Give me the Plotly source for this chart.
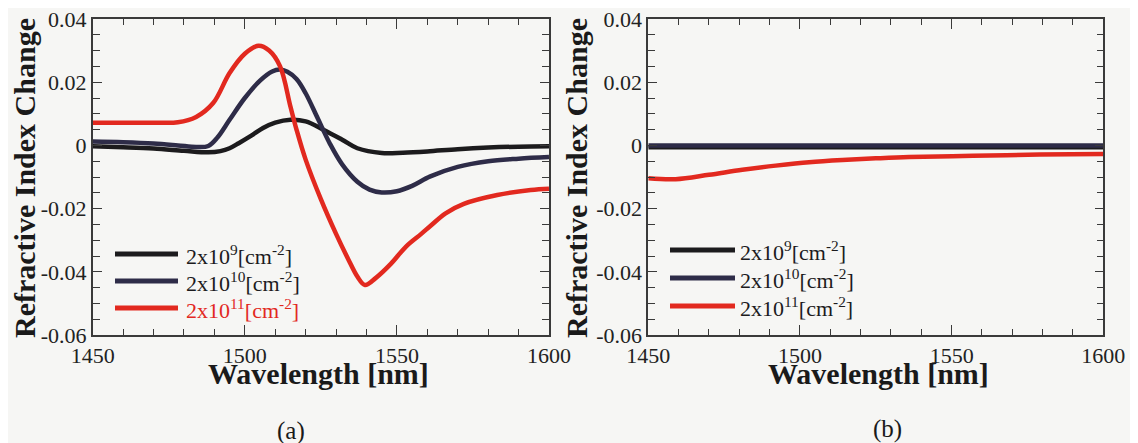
import plotly.graph_objects as go

# ---------------- data ----------------
# (a) left panel
wl_a_9 = [1450, 1460, 1470, 1480, 1488, 1492, 1495, 1498, 1502, 1506, 1510, 1515, 1520,
          1526, 1532, 1537, 1545, 1552, 1560, 1570, 1580, 1590, 1600]
dn_a_9 = [-0.0003, -0.0006, -0.0010, -0.0017, -0.0022, -0.0018, -0.0009, 0.0007, 0.0030,
          0.0055, 0.0072, 0.0081, 0.0076, 0.0049, 0.0018, -0.0009, -0.0024, -0.0023,
          -0.0019, -0.0012, -0.0007, -0.0004, -0.0003]

wl_a_10 = [1450, 1460, 1470, 1478, 1484, 1488, 1491, 1495, 1500, 1505, 1509, 1511.5, 1514,
           1517, 1520, 1524, 1528, 1532, 1537, 1541, 1545, 1550, 1555, 1561, 1570, 1580,
           1590, 1600]
dn_a_10 = [0.0012, 0.0010, 0.0006, 0.0000, -0.0005, -0.0002, 0.0025, 0.0081, 0.0150, 0.0205,
           0.0234, 0.0240, 0.0233, 0.0210, 0.0165, 0.0085, 0.0005, -0.0060, -0.0115, -0.0140,
           -0.0149, -0.0145, -0.0128, -0.0098, -0.0068, -0.0050, -0.0042, -0.0037]

wl_a_11 = [1450, 1460, 1470, 1478, 1484, 1489.6, 1495, 1500, 1504.5, 1508, 1511.6, 1515,
           1517, 1520, 1525, 1530, 1534, 1537, 1539.5, 1543, 1548, 1553, 1558, 1561, 1566,
           1572, 1583, 1594, 1600]
dn_a_11 = [0.0072, 0.0072, 0.0072, 0.0073, 0.0090, 0.0134, 0.0229, 0.0290, 0.0315, 0.0300,
           0.0250, 0.0123, 0.0050, -0.0045, -0.0170, -0.0280, -0.0360, -0.0415, -0.0442,
           -0.0420, -0.0375, -0.0320, -0.0280, -0.0255, -0.0215, -0.0185, -0.0157, -0.0141,
           -0.0137]

# (b) right panel
wl_b_9 = [1450, 1500, 1550, 1600]
dn_b_9 = [-0.0006, -0.0006, -0.0006, -0.0006]

wl_b_10 = [1450, 1500, 1550, 1600]
dn_b_10 = [0.0000, 0.0000, 0.0000, 0.0000]

wl_b_11 = [1450, 1459, 1470, 1481, 1492, 1503, 1514, 1525, 1536, 1557, 1579, 1600]
dn_b_11 = [-0.0104, -0.0107, -0.0093, -0.0077, -0.0064, -0.0053, -0.0046, -0.0041,
           -0.0037, -0.0033, -0.0029, -0.0027]

series_names = ["2x10<sup>9</sup>[cm<sup>-2</sup>]",
                "2x10<sup>10</sup>[cm<sup>-2</sup>]",
                "2x10<sup>11</sup>[cm<sup>-2</sup>]"]

x_tickvals = [1450, 1500, 1550, 1600]
x_ticktext = ["1450", "1500", "1550", "1600"]
y_tickvals = [0.04, 0.02, 0.0, -0.02, -0.04, -0.06]
y_ticktext = ["0.04", "0.02", "0", "-0.02", "-0.04", "-0.06"]

# ---------------- style ----------------
C_BLACK = "#1c1b1d"
C_BLUE = "#2e2c48"
C_RED = "#e2291f"
COLORS = [C_BLACK, C_BLUE, C_RED]
FONT = "Liberation Serif, Times New Roman, Times, DejaVu Serif, serif"
BG = "#f6f6f4"
AX = "#3a3a3a"

OFF = 8                      # page body margin of the viewer
W, H = 1138 - OFF, 443 - OFF
ML, MR, MT, MB = 0, 0, 19 - OFF, 108

fig = go.Figure()

def add(x, y, name, color, xa, ya):
    fig.add_trace(go.Scatter(
        x=x, y=y, name=name, mode="lines", showlegend=False,
        line=dict(color=color, width=4.5, shape="spline", smoothing=1.0),
        xaxis=xa, yaxis=ya, hoverinfo="skip"))

add(wl_a_9, dn_a_9, series_names[0], C_BLACK, "x", "y")
add(wl_a_10, dn_a_10, series_names[1], C_BLUE, "x", "y")
add(wl_a_11, dn_a_11, series_names[2], C_RED, "x", "y")

add(wl_b_9, dn_b_9, series_names[0], C_BLACK, "x2", "y2")
add(wl_b_10, dn_b_10, series_names[1], C_BLUE, "x2", "y2")
add(wl_b_11, dn_b_11, series_names[2], C_RED, "x2", "y2")

xcommon = dict(range=[1450, 1600], tickvals=x_tickvals, ticktext=x_ticktext,
               ticks="inside", ticklen=10, tickwidth=1.3, tickcolor=AX,
               minor=dict(dtick=10, ticks="inside", ticklen=6, tickwidth=1.3, tickcolor=AX),
               showline=True, linecolor=AX, linewidth=1.6, mirror="ticks",
               showgrid=False, zeroline=False, automargin=False,
               ticklabeloverflow="allow",
               tickfont=dict(family=FONT, size=22, color="#222"))
ycommon = dict(range=[-0.06, 0.04], tickvals=y_tickvals, ticktext=y_ticktext,
               ticks="inside", ticklen=9, tickwidth=1.3, tickcolor=AX,
               minor=dict(dtick=0.005, ticks="inside", ticklen=7, tickwidth=1.3, tickcolor=AX),
               showline=True, linecolor=AX, linewidth=1.6, mirror="ticks",
               showgrid=False, zeroline=False, automargin=False,
               ticklabeloverflow="allow",
               tickfont=dict(family=FONT, size=22, color="#222"),
               domain=[0, 1])

def px2x(p):
    """page pixel x -> paper fraction"""
    return (p - OFF - ML) / (W - ML - MR)

def py2y(p):
    """page pixel y -> paper fraction"""
    return (H - MB - (p - OFF)) / (H - MT - MB)

fig.update_layout(
    width=W, height=H,
    margin=dict(l=ML, r=MR, t=MT, b=MB, pad=0, autoexpand=False),
    paper_bgcolor=BG, plot_bgcolor=BG,
    xaxis=dict(domain=[px2x(92.7), px2x(549)], anchor="y", **xcommon),
    yaxis=dict(anchor="x", **ycommon),
    xaxis2=dict(domain=[px2x(648.3), px2x(1103.3)], anchor="y2", **xcommon),
    yaxis2=dict(anchor="x2", **ycommon),
    showlegend=False,
)

title_y = dict(family=FONT, size=30, color="#1a1a1a")
title_x = dict(family=FONT, size=30, color="#1a1a1a")
lab_font = dict(family=FONT, size=25, color="#1a1a1a")
annotations = [
    dict(text="<b>Refractive Index Change</b>", x=px2x(24), y=py2y(178), textangle=-90,
         font=title_y),
    dict(text="<b>Refractive Index Change</b>", x=px2x(576), y=py2y(178), textangle=-90,
         font=title_y),
    dict(text="<b>Wavelength [nm]</b>", x=px2x(318), y=py2y(373), font=title_x),
    dict(text="<b>Wavelength [nm]</b>", x=px2x(878), y=py2y(373), font=title_x),
    dict(text="(a)", x=px2x(291), y=py2y(431), font=lab_font),
    dict(text="(b)", x=px2x(887), y=py2y(429), font=lab_font),
]
for a in annotations:
    a.update(xanchor="center")

# legend boxes (one per panel): swatch line + label, placed in page pixels
shapes = []
legend_specs = [
    # (line x0, line x1, text x, row y's, text colours)
    (115, 178, 184, [254, 281, 308], ["#1c1b1d", "#1c1b1d", C_RED]),
    (670, 735, 738, [250, 278, 306], ["#1c1b1d", "#1c1b1d", "#1c1b1d"]),
]
for lx0, lx1, tx, rows, tcols in legend_specs:
    for i, ry in enumerate(rows):
        shapes.append(dict(type="line", xref="paper", yref="paper",
                           x0=px2x(lx0), x1=px2x(lx1), y0=py2y(ry), y1=py2y(ry),
                           line=dict(color=COLORS[i], width=5)))
        annotations.append(dict(text=series_names[i], x=px2x(tx), y=py2y(ry + 1),
                                xanchor="left",
                                font=dict(family=FONT, size=22, color=tcols[i])))

for a in annotations:
    a.update(xref="paper", yref="paper", showarrow=False, yanchor="middle")
    a.setdefault("xanchor", "center")
fig.update_layout(annotations=annotations, shapes=shapes)

fig.write_html("out.html")
